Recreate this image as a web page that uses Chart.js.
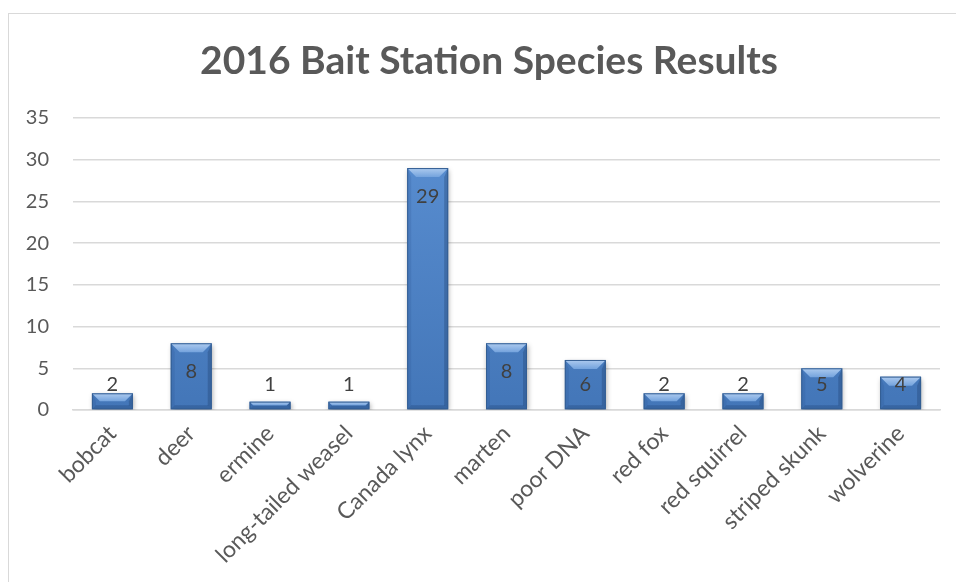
<!DOCTYPE html>
<html>
<head>
<meta charset="utf-8">
<title>2016 Bait Station Species Results</title>
<script src="https://cdn.jsdelivr.net/npm/chart.js@4/dist/chart.umd.min.js"></script>
<style>
    body { margin: 0; background: #fff; }
    #frame {
        position: absolute; left: 8px; top: 13px;
        width: 1000px; height: 1000px;
        border: 1px solid #d9d9d9;
    }
    #wrap { position: absolute; left: 0; top: 0; width: 956px; height: 582px; }
</style>
</head>
<body>
<div id="frame"></div>
<div id="wrap"><canvas id="myChart"></canvas></div>
<script>
var especies = ["bobcat", "deer", "ermine", "long-tailed weasel", "Canada lynx", "marten",
    "poor DNA", "red fox", "red squirrel", "striped skunk", "wolverine"];
var contagens = [2, 8, 1, 1, 29, 8, 6, 2, 2, 5, 4];
var eixoY = { min: 0, max: 35, passo: 5 };
var titulo = "2016 Bait Station Species Results";

var fonte = "Lato, 'Open Sans', sans-serif";

// corpo da barra: azul com leve degradê vertical
function corBarra(context) {
    var chart = context.chart;
    var area = chart.chartArea;
    if (!area) return "#4f81bd";
    var g = chart.ctx.createLinearGradient(0, area.top, 0, area.bottom);
    g.addColorStop(0, "#5b90d3");
    g.addColorStop(1, "#4376b8");
    return g;
}

// título desenhado à mão (um pouco deslocado do centro do canvas)
var tituloPlugin = {
    id: "tituloPlugin",
    beforeDraw: function (chart) {
        var ctx = chart.ctx;
        ctx.save();
        ctx.font = "bold 39px " + fonte;
        ctx.fillStyle = "#595959";
        ctx.textAlign = "center";
        ctx.textBaseline = "middle";
        ctx.fillText(titulo, 489, 61);
        ctx.restore();
    },
};

// sombra das barras + efeito de chanfro (bevel) por cima
var chanfro = {
    id: "chanfro",
    beforeDatasetsDraw: function (chart) {
        var ctx = chart.ctx;
        ctx.save();
        ctx.shadowColor = "rgba(0,0,0,0.35)";
        ctx.shadowBlur = 5;
        ctx.shadowOffsetX = 1;
        ctx.shadowOffsetY = 2;
    },
    afterDatasetsDraw: function (chart) {
        var ctx = chart.ctx;
        ctx.restore();
        var meta = chart.getDatasetMeta(0);
        meta.data.forEach(function (bar) {
            var l = bar.x - bar.width / 2, r = bar.x + bar.width / 2;
            var t = bar.y, b = bar.base;
            var h = b - t;
            var s = Math.min(9, h / 2);
            ctx.save();
            // topo claro
            var gt = ctx.createLinearGradient(0, t, 0, t + s);
            gt.addColorStop(0, "#aecbef");
            gt.addColorStop(1, "#74a3dd");
            ctx.fillStyle = gt;
            ctx.beginPath();
            ctx.moveTo(l, t); ctx.lineTo(r, t);
            ctx.lineTo(r - s, t + s); ctx.lineTo(l + s, t + s);
            ctx.closePath(); ctx.fill();
            // lados e base, bem discretos
            var s2 = Math.min(4, h / 2);
            ctx.fillStyle = "rgba(40,80,140,0.18)";
            ctx.beginPath();
            ctx.moveTo(l, t); ctx.lineTo(l + s2, t + s);
            ctx.lineTo(l + s2, b - s2); ctx.lineTo(l, b);
            ctx.closePath(); ctx.fill();
            ctx.fillStyle = "rgba(25,55,100,0.3)";
            ctx.beginPath();
            ctx.moveTo(r, t); ctx.lineTo(r - s2, t + s);
            ctx.lineTo(r - s2, b - s2); ctx.lineTo(r, b);
            ctx.closePath(); ctx.fill();
            ctx.fillStyle = "rgba(20,50,95,0.25)";
            ctx.beginPath();
            ctx.moveTo(l, b); ctx.lineTo(l + s2, b - s2);
            ctx.lineTo(r - s2, b - s2); ctx.lineTo(r, b);
            ctx.closePath(); ctx.fill();
            // contorno
            ctx.strokeStyle = "#335e93";
            ctx.lineWidth = 1;
            ctx.strokeRect(l + 0.5, t + 0.5, r - l - 1, h - 1);
            ctx.restore();
        });
    },
};

// rótulos de valor: perto do topo, sem descer abaixo de um limite perto da base
var rotulos = {
    id: "rotulos",
    afterDatasetsDraw: function (chart) {
        var ctx = chart.ctx;
        var meta = chart.getDatasetMeta(0);
        ctx.save();
        ctx.font = "20px " + fonte;
        ctx.fillStyle = "#404040";
        ctx.textAlign = "center";
        ctx.textBaseline = "middle";
        meta.data.forEach(function (bar, i) {
            var y = Math.min(bar.y + 28, bar.base - 25);
            ctx.fillText(contagens[i], bar.x, y);
        });
        ctx.restore();
    },
};

var ctx = document.getElementById("myChart").getContext("2d");

var myChart = new Chart(ctx, {
    type: "bar",
    data: {
        labels: especies,
        datasets: [
            {
                label: "2016",
                data: contagens,
                backgroundColor: corBarra,
                borderWidth: 0,
                categoryPercentage: 1,
                barPercentage: 0.52,
            },
        ],
    },
    options: {
        responsive: true,
        maintainAspectRatio: false,
        animation: false,
        layout: {
            padding: { left: 0, right: 16, top: 118, bottom: 0 },
        },
        plugins: {
            legend: { display: false },
            tooltip: { enabled: false },
            title: { display: false },
        },
        scales: {
            y: {
                min: eixoY.min,
                max: eixoY.max,
                ticks: {
                    stepSize: eixoY.passo,
                    color: "#595959",
                    font: { family: fonte, size: 20 },
                    padding: 24,
                },
                grid: {
                    color: "#d9d9d9",
                    lineWidth: 1.5,
                    drawTicks: false,
                },
                border: { display: false },
                afterFit: function (scale) {
                    scale.width = 73;
                },
            },
            x: {
                ticks: {
                    color: "#595959",
                    font: { family: fonte, size: 23 },
                    minRotation: 45,
                    maxRotation: 45,
                    padding: 2,
                },
                grid: { display: false },
                border: { color: "#d9d9d9", width: 1.5 },
                afterFit: function (scale) {
                    scale.height = 172;
                },
            },
        },
    },
    plugins: [tituloPlugin, chanfro, rotulos],
});
</script>
</body>
</html>
